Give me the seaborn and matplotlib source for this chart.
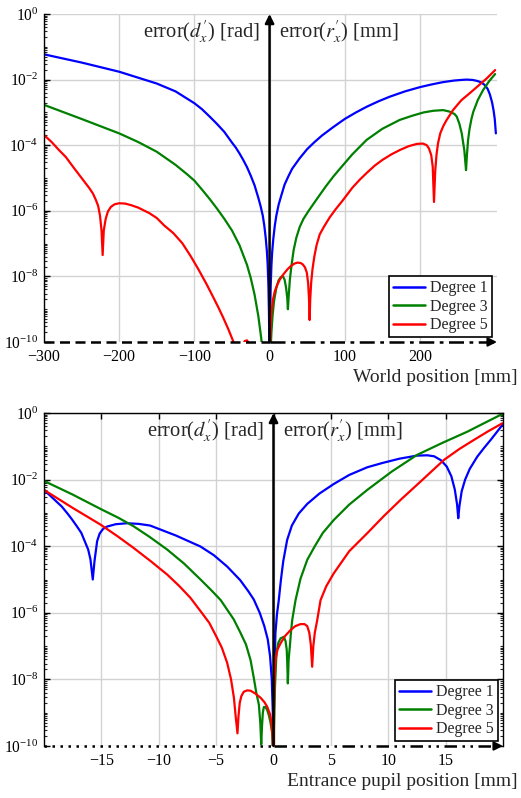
import numpy as np
import pandas as pd
import matplotlib
matplotlib.use("Agg")
import matplotlib.pyplot as plt
import matplotlib.ticker as mticker
import seaborn as sns

# ---------------------------------------------------------------------------
# Approximation error (log10 of the error) versus world position [mm]
# ---------------------------------------------------------------------------
world_pos_d1 = [-300, -250, -200, -150, -125, -100, -90, -80, -70, -60, -50, -45, -40, -35,
                -30, -25, -20, -15, -12, -9, -7, -5, -3.5, -2.5, -1.5, -0.8, -0.4, 0,
                0.4, 0.8, 1.5, 2.5, 3.5, 5, 7, 9, 12, 15, 20, 25, 30, 40, 50, 60, 70, 84,
                100, 115, 129, 145, 160, 180, 200, 215, 230, 245, 255, 262, 270, 276, 281,
                286, 290, 293, 296, 298, 299.5, 301]
world_log_d1 = [-1.23, -1.48, -1.76, -2.12, -2.36, -2.72, -2.9, -3.12, -3.35, -3.6, -3.92, -4.07, -4.25, -4.45,
                -4.67, -4.93, -5.22, -5.6, -5.85, -6.15, -6.45, -6.85, -7.25, -7.65, -8.3, -9.1, -9.9, -14,
                -9.9, -9.1, -8.3, -7.65, -7.25, -6.85, -6.45, -6.15, -5.82, -5.58, -5.2, -4.95, -4.72, -4.4, -4.12, -3.9, -3.7, -3.46,
                -3.2, -3.0, -2.83, -2.66, -2.52, -2.36, -2.23, -2.15, -2.08, -2.03, -2.01, -2.0, -2.01, -2.04, -2.08,
                -2.16, -2.28, -2.45, -2.7, -2.95, -3.2, -3.64]

world_pos_d3 = [-300, -250, -200, -175, -150, -125, -110, -100, -90, -80, -70, -60, -50, -40,
                -30, -25, -20, -15, -11, -9, 0, 1.5, 2.5, 4, 6, 9, 12, 15, 17.8, 20, 22, 23.5,
                24.4, 25.3, 27, 29, 32, 35.6, 40, 45, 52, 62, 75, 85, 95, 110, 129, 150, 173,
                190, 205, 218, 231, 240, 246, 249, 252.5, 255.6, 259, 261.3, 262.5, 264, 266,
                268.5, 271, 277, 284, 292, 300]
world_log_d3 = [-2.77, -3.2, -3.64, -3.9, -4.2, -4.6, -4.88, -5.08, -5.35, -5.63, -5.93, -6.25, -6.6, -7.05,
                -7.65, -8.05, -8.55, -9.2, -9.9, -10.4, -14, -10.2, -9.7, -9.2, -8.75, -8.35, -8.12, -8.02, -8.0, -8.1, -8.35, -8.65,
                -9.0, -8.65, -8.1, -7.7, -7.2, -6.82, -6.5, -6.25, -6.0, -5.67, -5.25, -4.95, -4.68, -4.28, -3.84, -3.5, -3.23,
                -3.1, -3.0, -2.95, -2.93, -2.98, -3.05, -3.13, -3.35, -3.64, -4.15, -4.76, -4.3, -3.85, -3.5,
                -3.2, -2.98, -2.62, -2.32, -2.05, -1.83]

world_pos_d5 = [-300, -290, -280, -271, -260, -250, -240, -235, -231, -228, -225.5, -223.5, -222,
                -220.5, -218, -215, -211, -206, -200, -192, -184, -175, -160, -150, -140, -128,
                -116, -105, -95, -84.4, -75, -68, -62, -55, -49, -45, -40, -36, -33, -30, -27,
                -24, -21, 0, 0.8, 1.5, 2.5, 4.4, 7, 10, 13.3, 17, 20, 24, 28, 33, 37, 41, 44,
                47, 49.5, 51.3, 52.5, 53.3, 54.1, 55.3, 57, 59.5, 62.5, 66.7, 72, 80, 88, 97.8,
                110, 120, 129, 140, 150, 162, 173, 185, 196, 204, 209, 212, 215, 217, 218.7,
                220.3, 222, 224, 227, 231, 235, 244, 255, 267, 278, 289, 300]
world_log_d5 = [-3.69, -3.9, -4.15, -4.36, -4.7, -5.0, -5.3, -5.47, -5.67, -5.85, -6.15, -6.6, -7.35,
                -6.6, -6.25, -6.02, -5.88, -5.8, -5.77, -5.78, -5.83, -5.9, -6.07, -6.22, -6.45, -6.68,
                -6.99, -7.38, -7.77, -8.21, -8.63, -8.95, -9.24, -9.6, -9.94, -10.2, -10.6, -10.15, -9.97, -9.95, -10.05,
                -10.3, -10.7, -14, -10.0, -9.5, -9.1, -8.72, -8.45, -8.27, -8.11, -7.98, -7.89, -7.78, -7.69, -7.61, -7.58, -7.59, -7.63,
                -7.72, -7.88, -8.2, -8.7, -9.33, -8.7, -8.2, -7.8, -7.4, -7.05, -6.72, -6.5, -6.2, -5.95, -5.67,
                -5.3, -5.05, -4.85, -4.62, -4.45, -4.28, -4.15, -4.03, -3.96, -3.95, -4.0, -4.1, -4.3, -4.65, -5.73,
                -4.8, -4.3, -3.95, -3.64, -3.42, -3.25, -2.93, -2.63, -2.4, -2.18, -1.96, -1.71]

# ---------------------------------------------------------------------------
# Approximation error (log10 of the error) versus entrance pupil position [mm]
# ---------------------------------------------------------------------------
pupil_pos_d1 = [-20, -19.25, -18.45, -17.95, -17.55, -17.1, -16.75, -16.45, -16.15, -15.95,
                -15.75, -15.6, -15.37, -15.15, -14.85, -14.5, -13.75, -12.75, -11.75, -10.75,
                -9.85, -8.5, -7.4, -6.36, -5.2, -4.04, -2.9, -2.2, -1.72, -1.2, -0.8, -0.5,
                -0.3, -0.15, -0.06, 0, 0.03, 0.08, 0.17, 0.3, 0.46, 0.65, 0.85, 1.19, 1.6,
                2.2, 2.94, 4.0, 5.26, 6.6, 8.17, 9.5, 11.0, 12.5, 13.4, 14.0, 14.6, 15.1,
                15.5, 15.8, 16.0, 16.1, 16.2, 16.4, 16.7, 17.1, 17.76, 18.3, 18.92, 19.4, 19.94]
pupil_log_d1 = [-2.31, -2.55, -2.81, -3.02, -3.2, -3.42, -3.6, -3.85, -4.1, -4.4,
                -5.0, -4.45, -3.85, -3.62, -3.48, -3.41, -3.34, -3.31, -3.33, -3.38,
                -3.5, -3.68, -3.85, -4.01, -4.27, -4.61, -5.02, -5.35, -5.6, -6.0, -6.4, -6.8,
                -7.3, -8.0, -9.0, -14, -9.0, -7.8, -6.6, -6.05, -5.62, -5.0, -4.45, -3.81, -3.38,
                -3.02, -2.73, -2.42, -2.13, -1.86, -1.63, -1.5, -1.37, -1.28, -1.27, -1.3, -1.42, -1.61,
                -1.9, -2.3, -2.75, -3.16, -2.8, -2.35, -2.0, -1.68, -1.31, -1.07, -0.81, -0.6, -0.36]

pupil_pos_d3 = [-20, -17.5, -15.08, -13.5, -12.2, -10.8, -9.27, -7.8, -6.36, -5.4, -4.6, -3.46,
                -2.88, -2.4, -2.0, -1.72, -1.5, -1.28, -1.15, -1.07, -1.0, -0.93, -0.84, -0.7,
                -0.55, -0.4, -0.26, -0.12, -0.03, 0, 0.05, 0.12, 0.26, 0.42, 0.61, 0.9, 1.05,
                1.15, 1.2, 1.25, 1.32, 1.42, 1.52, 1.63, 1.92, 2.35, 2.94, 3.6, 4.3, 5.26, 6.6,
                8.17, 10.3, 12.5, 14.7, 16.9, 18.5, 19.94]
pupil_log_d3 = [-2.04, -2.45, -2.88, -3.15, -3.4, -3.72, -4.1, -4.52, -5.0, -5.33, -5.62, -6.2,
                -6.6, -6.95, -7.42, -7.95, -8.4, -8.75, -9.3, -9.95, -9.4, -9.0, -8.83, -8.83,
                -8.92, -9.08, -9.3, -9.6, -10.2, -14, -9.5, -8.3, -7.2, -6.9, -6.77, -6.72, -6.85,
                -7.1, -7.5, -8.12, -7.4, -7.02, -6.6, -6.22, -5.62, -4.98, -4.41, -4.0, -3.6, -3.21, -2.75,
                -2.31, -1.76, -1.26, -0.9, -0.56, -0.28, -0.03]

pupil_pos_d5 = [-20, -17.5, -15.08, -13.6, -12.2, -10.7, -9.27, -8.2, -7.24, -6.36, -5.6, -5.0,
                -4.5, -4.04, -3.7, -3.45, -3.3, -3.14, -3.05, -2.94, -2.8, -2.59, -2.3, -2.0,
                -1.6, -1.13, -0.8, -0.55, -0.3, -0.17, -0.06, 0, 0.03, 0.08, 0.17, 0.35, 0.61,
                1.0, 1.48, 1.9, 2.35, 2.7, 2.94, 3.12, 3.25, 3.37, 3.47, 3.6, 3.81, 4.1, 4.6,
                5.26, 6.6, 8.17, 9.6, 11.07, 13.0, 14.85, 16.2, 17.46, 18.7, 19.94]
pupil_log_d5 = [-2.31, -2.85, -3.35, -3.7, -4.05, -4.45, -4.85, -5.2, -5.55, -5.95, -6.3, -6.7,
                -7.05, -7.5, -8.0, -8.55, -9.1, -9.62, -9.1, -8.7, -8.5, -8.37, -8.33, -8.34,
                -8.42, -8.55, -8.68, -8.82, -9.05, -9.3, -9.8, -14, -9.0, -8.1, -7.42, -7.1, -6.92,
                -6.7, -6.52, -6.4, -6.34, -6.34, -6.4, -6.6, -6.95, -7.62, -7.0, -6.6, -6.22, -5.62, -5.2,
                -4.81, -4.15, -3.61, -3.1, -2.61, -2.0, -1.41, -1.08, -0.81, -0.55, -0.31]

degree_labels = ["Degree 1", "Degree 3", "Degree 5"]
degree_colors = ["#0000ff", "#008000", "#ff0000"]

world_x_ticks = [-300, -200, -100, 0, 100, 200]
pupil_x_ticks = [-15, -10, -5, 0, 5, 10, 15]
y_major_ticks = [1e-10, 1e-8, 1e-6, 1e-4, 1e-2, 1e0]


def long_table(xs, logs):
    frames = []
    for lab, x, lg in zip(degree_labels, xs, logs):
        frames.append(pd.DataFrame({"pos": x, "err": 10.0 ** np.asarray(lg), "degree": lab}))
    return pd.concat(frames, ignore_index=True)


world_df = long_table([world_pos_d1, world_pos_d3, world_pos_d5],
                      [world_log_d1, world_log_d3, world_log_d5])
pupil_df = long_table([pupil_pos_d1, pupil_pos_d3, pupil_pos_d5],
                      [pupil_log_d1, pupil_log_d3, pupil_log_d5])

sns.set_theme(style="white")
plt.rcParams["font.family"] = ["Liberation Serif", "DejaVu Serif"]
plt.rcParams["mathtext.fontset"] = "stix"
plt.rcParams["axes.unicode_minus"] = True

fig = plt.figure(figsize=(5.21, 7.98), dpi=100)
ax_w = fig.add_axes([44 / 521, 1 - 342 / 798, 453 / 521, 328 / 798])
ax_p = fig.add_axes([44 / 521, 1 - 746 / 798, 459 / 521, 333 / 798])

palette = dict(zip(degree_labels, degree_colors))
GRID = "#d2d2d2"


def style_axes(ax, xlim, xticks, boxed):
    ax.set_yscale("log")
    ax.set_xlim(*xlim)
    ax.set_ylim(1e-10, 1e0)
    ax.set_xticks(xticks)
    ax.yaxis.set_major_locator(mticker.FixedLocator(y_major_ticks))
    ax.yaxis.set_minor_locator(mticker.LogLocator(base=10, subs=np.arange(1, 10), numticks=40))
    ax.yaxis.set_minor_formatter(mticker.NullFormatter())
    ax.yaxis.set_major_formatter(mticker.LogFormatterMathtext())
    ax.grid(True, which="major", color=GRID, lw=1.0)
    ax.set_axisbelow(True)
    ax.set_xlabel("")
    ax.set_ylabel("")
    for s in ax.spines.values():
        s.set_color("black")
        s.set_linewidth(1.0)
    ax.spines["bottom"].set_visible(False)
    ax.spines["top"].set_visible(boxed)
    ax.spines["right"].set_visible(boxed)
    ax.tick_params(axis="y", which="major", direction="in", length=4, width=1,
                   labelsize=11.2, pad=4, left=True, right=boxed, colors="black")
    ax.tick_params(axis="y", which="minor", direction="in", length=2, width=0.8,
                   left=True, right=boxed)
    ax.tick_params(axis="x", which="major", direction="in", length=4 if boxed else 0,
                   width=1, labelsize=11.5, pad=5, bottom=False, top=boxed, colors="black")


for ax, df in ((ax_w, world_df), (ax_p, pupil_df)):
    ax.set_yscale("log")
    sns.lineplot(data=df, x="pos", y="err", hue="degree", hue_order=degree_labels,
                 palette=palette, estimator=None, sort=False, lw=1.6, ax=ax)

style_axes(ax_w, (-300, 302.5), world_x_ticks, boxed=False)
style_axes(ax_p, (-20, 20), pupil_x_ticks, boxed=True)


def axis_arrows(ax, left_ls, right_ls, xmin, xmax):
    kw = dict(color="black", lw=1.8, clip_on=False, zorder=5, solid_capstyle="butt")
    ax.plot([xmin, 0], [1e-10, 1e-10], ls=left_ls, **kw)
    ax.plot([0, xmax], [1e-10, 1e-10], ls=right_ls, **kw)
    span = xmax - xmin
    ax.annotate("", xy=(xmax, 1e-10), xytext=(xmax - 0.012 * span, 1e-10),
                arrowprops=dict(arrowstyle="-|>", color="black", lw=1.5,
                                mutation_scale=13, shrinkA=0, shrinkB=0),
                annotation_clip=False, zorder=6)
    ax.annotate("", xy=(0, 1e0), xytext=(0, 1e-10),
                arrowprops=dict(arrowstyle="-|>", color="black", lw=1.8,
                                mutation_scale=13, shrinkA=0, shrinkB=0),
                annotation_clip=False, zorder=6)


axis_arrows(ax_w, (0, (4, 2.2)), (0, (6, 2.2, 1.5, 2.2)), -300, 302.5)
axis_arrows(ax_p, (0, (1, 2.2)), (0, (5, 2.2, 1, 2.2, 1, 2.2)), -20, 20)

for ax, yv in ((ax_w, 10 ** -0.55), (ax_p, 10 ** -0.52)):
    ax.annotate(r"error($d_x^{\prime}$) [rad]", xy=(0, yv), xytext=(-7, 0), textcoords="offset points",
                ha="right", va="center", fontsize=14.8)
    ax.annotate(r"error($r_x^{\prime}$) [mm]", xy=(0, yv), xytext=(7, 0), textcoords="offset points",
                ha="left", va="center", fontsize=14.8)
    leg = ax.legend(loc="lower right", frameon=True, fancybox=False, framealpha=1,
                    edgecolor="black", fontsize=11.5, handlelength=2.0, handletextpad=0.35,
                    borderpad=0.25, labelspacing=0.15, borderaxespad=0.3)
    leg.get_frame().set_linewidth(1.2)
    for h in leg.get_lines():
        h.set_linewidth(1.8)

fig.text(518 / 521, 1 - 378 / 798, "World position [mm]", ha="right", va="center", fontsize=14)
fig.text(518 / 521, 1 - 782 / 798, "Entrance pupil position [mm]", ha="right", va="center", fontsize=14)

fig.savefig("out.png", dpi=100)
